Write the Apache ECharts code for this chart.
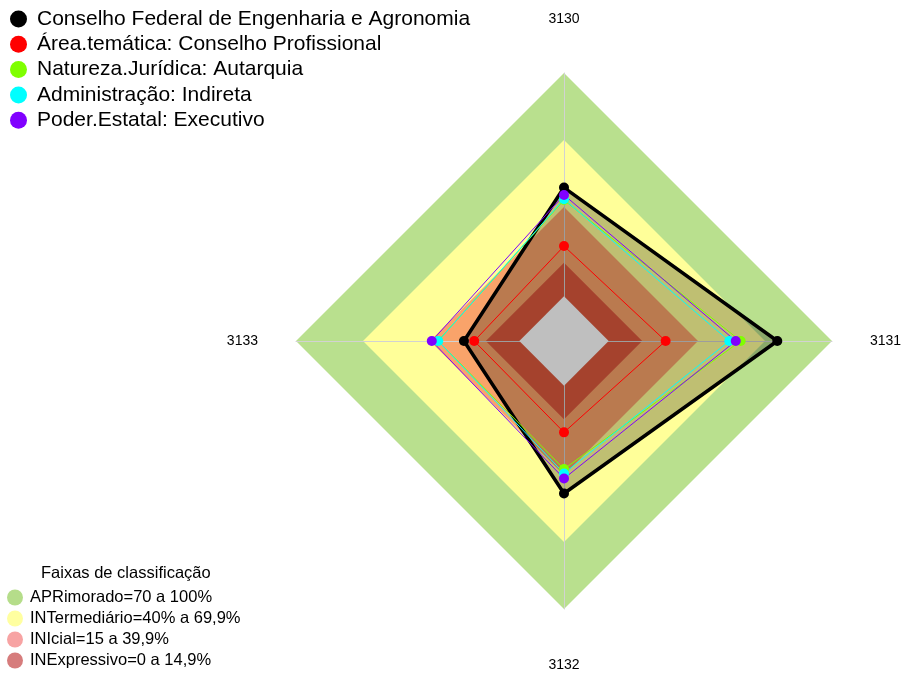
<!DOCTYPE html>
<html>
<head>
<meta charset="utf-8">
<script src="https://cdn.jsdelivr.net/npm/echarts@6/dist/echarts.min.js"></script>
<style>
html,body{margin:0;padding:0;background:#fff;}
#c{width:904px;height:673px;}
</style>
</head>
<body>
<div id="c"></div>
<script>
// Categories (clockwise from top)
var categories = ['3130', '3131', '3132', '3133'];

// Data series (values per category, same order as categories)
var seriesNames = [
  'Conselho Federal de Engenharia e Agronomia',
  'Área.temática: Conselho Profissional',
  'Natureza.Jurídica: Autarquia',
  'Administração: Indireta',
  'Poder.Estatal: Executivo'
];
var conselhoValues = [48.7, 75.5, 48.3, 24.8];
var areaValues = [22.5, 25.5, 20.9, 20.2];
var naturezaValues = [43.1, 59.1, 37.3, 36.4];
var administracaoValues = [43.5, 54.0, 39.3, 36.3];
var poderValues = [45.4, 56.9, 41.6, 39.2];
var seriesColors = ['#000000', '#ff0000', '#7fff00', '#00ffff', '#8000ff'];

// Classification bands
var bandNames = [
  'APRimorado=70 a 100%',
  'INTermediário=40% a 69,9%',
  'INIcial=15 a 39,9%',
  'INExpressivo=0 a 14,9%'
];
var bandUpper = [100, 70, 40, 15];
var bandColors = ['#b9e08e', '#ffff99', '#f9a36a', '#dc593d'];
var bandLegendColors = ['#b5dd8a', '#ffffa0', '#f7a3a3', '#d67c7c'];
var axisMin = -20, axisMax = 100;

var FONT = 'Liberation Sans, Arial, sans-serif';

// ECharts places indicators counter-clockwise from the top; reorder to get clockwise.
var order = [0, 3, 2, 1];
function reorder(arr) { return order.map(function (i) { return arr[i]; }); }

var indicators = reorder(categories).map(function (n) {
  return { name: n, min: axisMin, max: axisMax };
});

var series = [];
bandNames.forEach(function (name, i) {
  var v = categories.map(function () { return bandUpper[i]; });
  series.push({
    type: 'radar', name: name, z: 1, silent: true,
    symbol: 'none',
    lineStyle: { width: 0, opacity: 0 },
    itemStyle: { color: bandColors[i] },
    areaStyle: { color: bandColors[i], opacity: 1 },
    data: [{ value: v, name: name }]
  });
});
// white centre (below zero)
series.push({
  type: 'radar', name: 'centro', z: 2.5, silent: true,
  symbol: 'none',
  lineStyle: { width: 0, opacity: 0 },
  areaStyle: { color: '#ffffff', opacity: 1 },
  data: [{ value: categories.map(function () { return 0; }), name: 'centro' }]
});

var dataArrays = [conselhoValues, areaValues, naturezaValues, administracaoValues, poderValues];
dataArrays.forEach(function (arr, i) {
  var s = {
    type: 'radar', name: seriesNames[i], z: 3,
    symbol: 'circle', symbolSize: 10,
    itemStyle: { color: seriesColors[i] },
    lineStyle: { color: seriesColors[i], width: i === 0 ? 3.5 : 1 },
    data: [{ value: reorder(arr), name: seriesNames[i] }]
  };
  if (i === 0) s.areaStyle = { color: 'rgba(0,0,0,0.25)', opacity: 1 };
  series.push(s);
});

var chart = echarts.init(document.getElementById('c'), null, { renderer: 'canvas' });
chart.setOption({
  animation: false,
  backgroundColor: '#ffffff',
  title: {
    text: 'Faixas de classificação',
    left: 41, top: 565, padding: 0,
    textStyle: { fontSize: 16.5, fontWeight: 'normal', color: '#000', fontFamily: FONT }
  },
  legend: [
    {
      orient: 'vertical', left: 10, top: 8.5, padding: 0,
      itemGap: 4.3, itemWidth: 17, itemHeight: 17, icon: 'circle',
      selectedMode: false,
      textStyle: { fontSize: 21, color: '#000', fontFamily: FONT, padding: [0, 0, 0, 5] },
      data: seriesNames
    },
    {
      orient: 'vertical', left: 7, top: 589, padding: 0,
      itemGap: 4, itemWidth: 16, itemHeight: 16, icon: 'circle',
      selectedMode: false,
      textStyle: { fontSize: 16.5, color: '#000', fontFamily: FONT, padding: [0, 0, 0, 2] },
      data: bandNames.map(function (n, i) {
        return { name: n, itemStyle: { color: bandLegendColors[i] } };
      })
    }
  ],
  radar: {
    z: 2,
    center: [564, 341],
    radius: 268,
    startAngle: 90,
    shape: 'polygon',
    splitNumber: 6,
    nameGap: 38,
    axisName: { color: '#000', fontSize: 14, fontFamily: FONT, padding: [11, 0, 9, 0] },
    axisLine: { show: true, lineStyle: { color: '#d2d2d2', width: 1 } },
    splitLine: { show: false },
    splitArea: { show: false },
    axisTick: { show: false },
    axisLabel: { show: false },
    indicator: indicators
  },
  series: series
});
</script>
</body>
</html>
